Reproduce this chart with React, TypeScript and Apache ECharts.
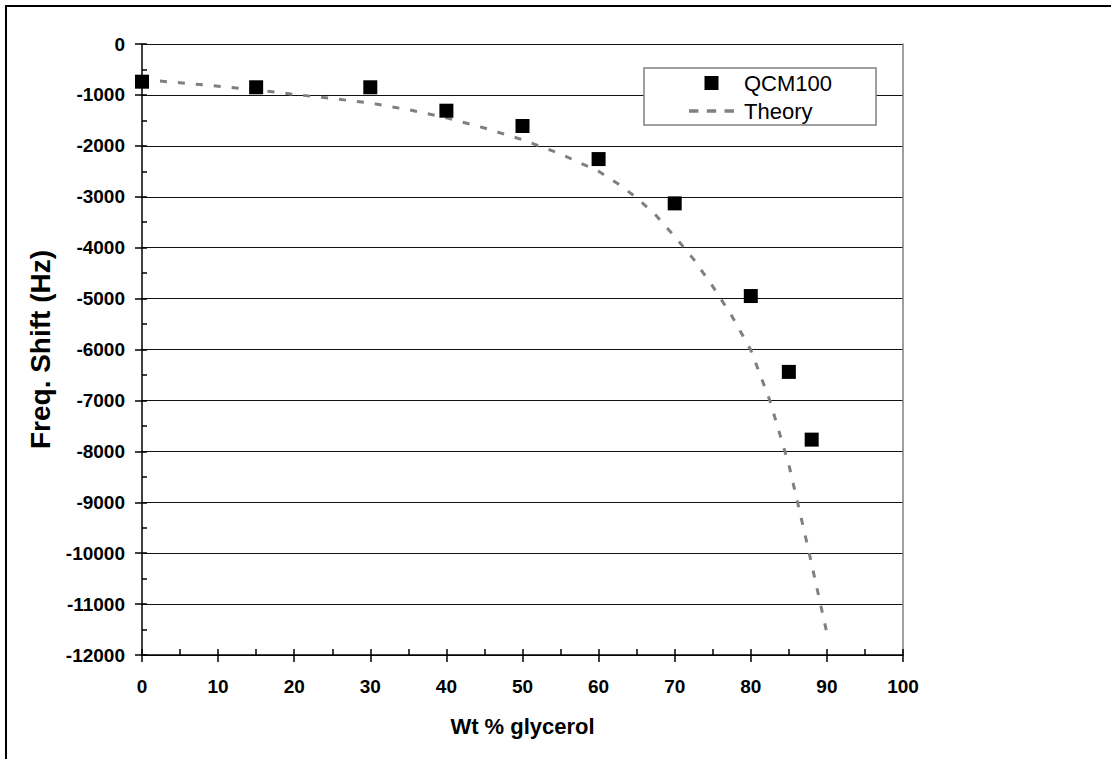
import React, { useEffect, useRef } from "react";
import * as echarts from "echarts";

const qcmX = [0, 15, 30, 40, 50, 60, 70, 80, 85, 88];
const qcmY = [-740, -850, -850, -1310, -1610, -2260, -3130, -4950, -6440, -7770];

const theoryX = [0, 5, 10, 15, 20, 25, 30, 35, 40, 45, 50, 55, 60, 62.5, 65, 67.5, 70, 72.5, 75, 77.5, 80, 82.5, 85, 87.5, 90];
const theoryY = [-700, -760, -830, -900, -990, -1070, -1160, -1290, -1450, -1650, -1880, -2160, -2500, -2740, -3020, -3360, -3780, -4230, -4760, -5340, -6010, -7000, -8260, -9880, -11570];

const seriesNames = ["QCM100", "Theory"];
const xTitle = "Wt % glycerol";
const yTitle = "Freq. Shift (Hz)";

const FONT = "'Liberation Sans', Arial, sans-serif";

export default function App() {
  const ref = useRef<HTMLDivElement>(null);
  useEffect(() => {
    if (!ref.current) return;
    const chart = echarts.init(ref.current, undefined, { renderer: "svg" });
    const qcmData = qcmX.map((x, i) => [x, qcmY[i]]);
    const theoryData = theoryX.map((x, i) => [x, theoryY[i]]);
    chart.setOption({
      animation: false,
      backgroundColor: "#fff",
      grid: { left: 142, top: 44, width: 761, height: 611, containLabel: false },
      legend: {
        orient: "vertical",
        left: 644,
        top: 68,
        padding: [4, 44, 3, 45],
        backgroundColor: "#fff",
        borderColor: "#808080",
        borderWidth: 1.5,
        borderRadius: 0,
        itemWidth: 45,
        itemHeight: 14,
        itemGap: 6,
        textStyle: { fontSize: 22, fontFamily: FONT, color: "#000", padding: [0, 0, 0, 5] },
        data: [
          { name: seriesNames[0], icon: "path://M0,0L14,0L14,14L0,14Z", itemStyle: { color: "#000" } },
          {
            name: seriesNames[1],
            icon: "path://M0,0h9v3.5h-9z M17,0h9v3.5h-9z M34,0h9v3.5h-9z",
            itemStyle: { color: "#808080" },
          },
        ],
      },
      xAxis: [
        {
          type: "value",
          min: 0,
          max: 100,
          interval: 10,
          position: "bottom",
          name: xTitle,
          nameLocation: "middle",
          nameGap: 60,
          nameTextStyle: { fontSize: 22, fontWeight: "bold", fontFamily: FONT, color: "#000" },
          axisLine: { show: true, onZero: false, lineStyle: { color: "#000", width: 1.5 } },
          axisTick: { show: true, length: 7, lineStyle: { color: "#000", width: 1.5 } },
          axisLabel: { fontSize: 19, fontWeight: "bold", fontFamily: FONT, color: "#000", margin: 22 },
          splitLine: { show: false },
        },
        {
          type: "value",
          min: 0,
          max: 100,
          interval: 5,
          position: "bottom",
          axisLine: { show: false, onZero: false },
          axisTick: { show: true, inside: true, length: 6, lineStyle: { color: "#000", width: 1.5 } },
          axisLabel: { show: false },
          splitLine: { show: false },
        },
      ],
      yAxis: [
        {
          type: "value",
          min: -12000,
          max: 0,
          interval: 1000,
          position: "left",
          name: yTitle,
          nameLocation: "middle",
          nameGap: 88,
          nameRotate: 90,
          nameTextStyle: { fontSize: 28, fontWeight: "bold", fontFamily: FONT, color: "#000" },
          axisLine: { show: true, onZero: false, lineStyle: { color: "#000", width: 1.5 } },
          axisTick: { show: true, length: 7, lineStyle: { color: "#000", width: 1.5 } },
          axisLabel: {
            fontSize: 19,
            fontWeight: "bold",
            fontFamily: FONT,
            color: "#000",
            margin: 17,
            formatter: (v: number) => String(v),
          },
          splitLine: { show: true, lineStyle: { color: "#111", width: 1 } },
        },
        {
          type: "value",
          min: -12000,
          max: 0,
          interval: 500,
          position: "left",
          axisLine: { show: false, onZero: false },
          axisTick: { show: true, inside: true, length: 5, lineStyle: { color: "#000", width: 1.5 } },
          axisLabel: { show: false },
          splitLine: { show: false },
        },
        {
          type: "value",
          min: -12000,
          max: 0,
          interval: 1000,
          position: "right",
          axisLine: { show: true, onZero: false, lineStyle: { color: "#808080", width: 1.5 } },
          axisTick: { show: false },
          axisLabel: { show: false },
          splitLine: { show: false },
        },
      ],
      graphic: [
        {
          type: "rect",
          shape: { x: 6, y: 6, width: 1300, height: 1000 },
          style: { fill: "none", stroke: "#000", lineWidth: 2 },
          silent: true,
          z: 100,
        },
      ],
      series: [
        {
          name: seriesNames[1],
          type: "line",
          xAxisIndex: 0,
          yAxisIndex: 0,
          data: theoryData,
          symbol: "none",
          showSymbol: false,
          smooth: false,
          lineStyle: { color: "#808080", width: 3, type: [7, 11] },
          itemStyle: { color: "#808080" },
          z: 2,
        },
        {
          name: seriesNames[0],
          type: "scatter",
          xAxisIndex: 0,
          yAxisIndex: 0,
          data: qcmData,
          symbol: "rect",
          symbolSize: 14,
          itemStyle: { color: "#000", opacity: 1 },
          z: 3,
        },
      ],
    });
    return () => chart.dispose();
  }, []);
  return (
    <div
      ref={ref}
      style={{ position: "fixed", left: 0, top: 0, width: 1111, height: 759, background: "#fff" }}
    />
  );
}
